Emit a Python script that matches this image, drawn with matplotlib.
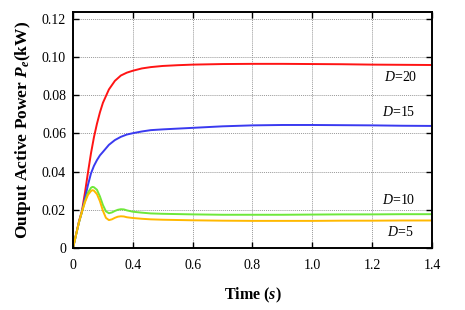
import numpy as np
import matplotlib
matplotlib.use("Agg")
import matplotlib.pyplot as plt

plt.rcParams["font.family"] = ["Liberation Serif", "DejaVu Serif"]
plt.rcParams["mathtext.fontset"] = "custom"
plt.rcParams["mathtext.rm"] = "Liberation Serif"
plt.rcParams["mathtext.it"] = "Liberation Serif:italic"
plt.rcParams["mathtext.bf"] = "Liberation Serif:bold"
plt.rcParams["mathtext.bfit"] = "Liberation Serif:bold:italic"

# time axis (first tick is labelled "0")
t_fast = [0.20, 0.21, 0.22, 0.23, 0.24, 0.25, 0.26, 0.27, 0.28, 0.29, 0.30, 0.32,
          0.34, 0.36, 0.38, 0.40, 0.43, 0.46, 0.50, 0.55, 0.60, 0.70, 0.80, 0.90,
          1.00, 1.10, 1.20, 1.30, 1.40]
p_d20 = [0.0, 0.0070, 0.0140, 0.0195, 0.0290, 0.0395, 0.0495, 0.0580, 0.0650,
         0.0710, 0.0760, 0.0830, 0.0875, 0.0903, 0.0918, 0.0928, 0.0940, 0.0947,
         0.0953, 0.0957, 0.0960, 0.0963, 0.0964, 0.0964, 0.0963, 0.0962, 0.0960,
         0.0959, 0.0958]
p_d15 = [0.0, 0.0068, 0.0135, 0.0190, 0.0260, 0.0330, 0.0390, 0.0430, 0.0460,
         0.0485, 0.0503, 0.0540, 0.0565, 0.0582, 0.0594, 0.0601, 0.0610, 0.0617,
         0.0621, 0.0625, 0.0629, 0.0637, 0.0642, 0.0644, 0.0644, 0.0643, 0.0642,
         0.0640, 0.0639]

t_osc = [0.20, 0.21, 0.22, 0.23, 0.24, 0.25, 0.26, 0.265, 0.27, 0.28, 0.29, 0.30,
         0.31, 0.32, 0.33, 0.34, 0.35, 0.36, 0.37, 0.38, 0.40, 0.43, 0.46, 0.50,
         0.60, 0.70, 0.80, 0.90, 1.00, 1.10, 1.20, 1.30, 1.40]
p_d10 = [0.0, 0.0068, 0.0135, 0.0190, 0.0245, 0.0290, 0.0315, 0.0320, 0.0318,
         0.0305, 0.0270, 0.0225, 0.0192, 0.0182, 0.0186, 0.0194, 0.0200, 0.0203,
         0.0202, 0.0197, 0.0190, 0.0185, 0.0181, 0.0179, 0.0176, 0.0174, 0.0174,
         0.0174, 0.0175, 0.0176, 0.0176, 0.0177, 0.0177]
p_d5 = [0.0, 0.0068, 0.0135, 0.0190, 0.0240, 0.0278, 0.0298, 0.0303, 0.0300,
        0.0282, 0.0245, 0.0195, 0.0158, 0.0146, 0.0150, 0.0158, 0.0164, 0.0166,
        0.0165, 0.0161, 0.0157, 0.0153, 0.0150, 0.0148, 0.0145, 0.0143, 0.0142,
        0.0142, 0.0142, 0.0143, 0.0143, 0.0144, 0.0144]

x_ticks = [0.2, 0.4, 0.6, 0.8, 1.0, 1.2, 1.4]
x_labels = ["0", "0.4", "0.6", "0.8", "1.0", "1.2", "1.4"]
y_ticks = [0, 0.02, 0.04, 0.06, 0.08, 0.10, 0.12]
y_labels = ["0", "0.02", "0.04", "0.06", "0.08", "0.10", "0.12"]

fig = plt.figure(figsize=(4.65, 3.1), dpi=100)
ax = fig.add_axes([0.157, 0.2, 0.772, 0.761])

ax.plot(t_fast, p_d20, color="#ff1414", linewidth=1.4)
ax.plot(t_fast, p_d15, color="#3a3af0", linewidth=1.4)
ax.plot(t_osc, p_d10, color="#6ee83a", linewidth=1.4)
ax.plot(t_osc, p_d5, color="#ffb800", linewidth=1.4)

ax.text(1.238, 0.0897, "$D$=20", fontsize=10, va="center")
ax.text(1.233, 0.0711, "$D$=15", fontsize=10, va="center")
ax.text(1.233, 0.0253, "$D$=10", fontsize=10, va="center")
ax.text(1.25, 0.0082, "$D$=5", fontsize=10, va="center")

ax.set_xlim(0.2, 1.4)
ax.set_ylim(0, 0.1235)
ax.set_xticks(x_ticks)
ax.set_xticklabels(x_labels, fontsize=10)
ax.set_yticks(y_ticks)
ax.set_yticklabels(y_labels, fontsize=10)
ax.tick_params(direction="in", top=True, right=True, length=4, width=1)
ax.tick_params(axis="x", pad=8)
ax.tick_params(axis="y", pad=5)
ax.grid(True, linestyle=(0, (1, 1)), color="#999999", linewidth=0.7)
for s in ax.spines.values():
    s.set_linewidth(1.4)

ax.set_xlabel(r"Time ($\mathbfit{s}$)", fontsize=11.5, fontweight="bold", labelpad=10)
ax.set_ylabel(r"Output Active Power $\mathbfit{P}_{\mathbfit{e}}$(kW)", fontsize=12.5,
              fontweight="bold", labelpad=6)

fig.savefig("out.png", dpi=100)
